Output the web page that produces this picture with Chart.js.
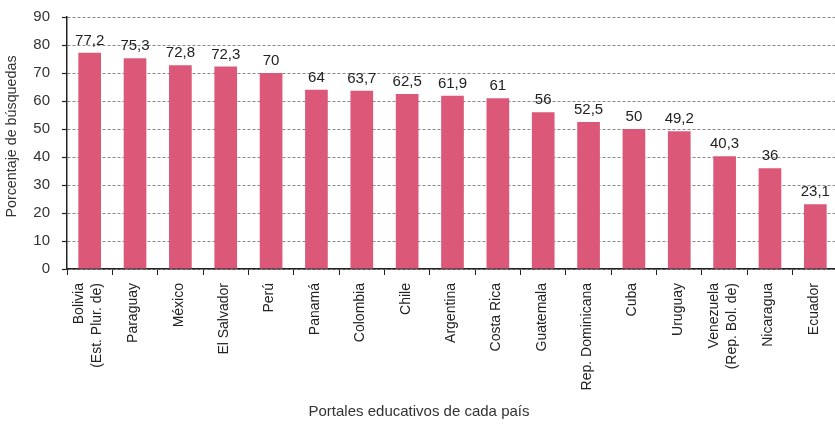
<!DOCTYPE html>
<html>
<head>
<meta charset="utf-8">
<script src="https://cdn.jsdelivr.net/npm/chart.js@4.4.1/dist/chart.umd.min.js"></script>
<style>
    html, body { margin: 0; padding: 0; overflow: hidden; background: #fff; }
    #wrap { width: 840px; height: 424px; }
</style>
</head>
<body>
<div id="wrap"><canvas id="myChart" width="840" height="424"></canvas></div>
<script>
    "use strict";

    // Data
    let countries = [
        ['Bolivia', '(Est. Plur. de)'], 'Paraguay', 'México', 'El Salvador', 'Perú', 'Panamá',
        'Colombia', 'Chile', 'Argentina', 'Costa Rica', 'Guatemala', 'Rep. Dominicana',
        'Cuba', 'Uruguay', ['Venezuela', '(Rep. Bol. de)'], 'Nicaragua', 'Ecuador'
    ];
    let searchShare = [77.2, 75.3, 72.8, 72.3, 70, 64, 63.7, 62.5, 61.9, 61, 56, 52.5, 50, 49.2, 40.3, 36, 23.1];
    let yTicks = [0, 10, 20, 30, 40, 50, 60, 70, 80, 90];

    const FONT = "'Liberation Sans', Arial, sans-serif";

    // values above each bar, with decimal comma
    const valueLabels = {
        id: 'valueLabels',
        afterDatasetsDraw(chart) {
            let ctx = chart.ctx;
            let meta = chart.getDatasetMeta(0);
            ctx.save();
            ctx.font = '15px ' + FONT;
            ctx.fillStyle = '#222';
            ctx.textAlign = 'center';
            ctx.textBaseline = 'alphabetic';
            meta.data.forEach(function (bar, i) {
                let txt = String(searchShare[i]).replace('.', ',');
                ctx.fillText(txt, bar.x, bar.y - 8);
            });
            ctx.restore();
        }
    };

    // rotated category labels (multi-line ones centred on the bar) and axis titles
    const axisText = {
        id: 'axisText',
        afterDraw(chart) {
            let ctx = chart.ctx;
            let xs = chart.scales.x;
            let top = xs.top + 14;
            ctx.save();
            ctx.font = '14px ' + FONT;
            ctx.fillStyle = '#222';
            ctx.textAlign = 'right';
            ctx.textBaseline = 'middle';
            countries.forEach(function (c, i) {
                let lines = Array.isArray(c) ? c : [c];
                let px = xs.getPixelForValue(i);
                ctx.save();
                ctx.translate(px - 1.5, top);
                ctx.rotate(-Math.PI / 2);
                lines.forEach(function (line, j) {
                    ctx.fillText(line, 0, (j - (lines.length - 1) / 2) * 18.5);
                });
                ctx.restore();
            });

            ctx.fillStyle = '#333';
            ctx.textAlign = 'center';
            ctx.textBaseline = 'alphabetic';
            ctx.font = '15px ' + FONT;
            ctx.fillText('Portales educativos de cada país', 419, 416);

            ctx.font = '14.3px ' + FONT;
            ctx.textBaseline = 'middle';
            ctx.translate(12, 136.5);
            ctx.rotate(-Math.PI / 2);
            ctx.fillText('Porcentaje de búsquedas', 0, 0);
            ctx.restore();
        }
    };

    let ctx = document.getElementById('myChart').getContext('2d');

    let chart = new Chart(ctx, {
        type: 'bar',
        data: {
            labels: countries,
            datasets: [
                {
                    label: 'Porcentaje de búsquedas',
                    backgroundColor: '#dc5878',
                    borderWidth: 0,
                    barPercentage: 0.5,
                    categoryPercentage: 1,
                    data: searchShare
                }
            ]
        },
        options: {
            responsive: false,
            animation: false,
            layout: {
                padding: { top: 17, right: 2, bottom: 0, left: 0 }
            },
            plugins: {
                legend: { display: false },
                tooltip: { enabled: false }
            },
            scales: {
                x: {
                    offset: true,
                    afterFit(scale) { scale.height = 155; },
                    grid: {
                        offset: true,
                        drawOnChartArea: false,
                        drawTicks: true,
                        tickLength: 6,
                        tickColor: '#222',
                        tickWidth: 1
                    },
                    border: { color: '#222', width: 1.5 },
                    ticks: { display: false, autoSkip: false }
                },
                y: {
                    min: 0,
                    max: 90,
                    afterFit(scale) { scale.width = 67; },
                    afterBuildTicks(scale) {
                        scale.ticks = yTicks.map(function (v) { return { value: v }; });
                    },
                    grid: {
                        color: '#888',
                        lineWidth: 1,
                        drawTicks: true,
                        tickLength: 5,
                        tickColor: '#222',
                        tickWidth: 1.2,
                        tickBorderDash: []
                    },
                    border: { color: '#222', width: 1.5, dash: [3, 2] },
                    ticks: {
                        padding: 12,
                        color: '#333',
                        font: { family: FONT, size: 15, lineHeight: 0.6 }
                    }
                }
            }
        },
        plugins: [valueLabels, axisText]
    });
</script>
</body>
</html>
